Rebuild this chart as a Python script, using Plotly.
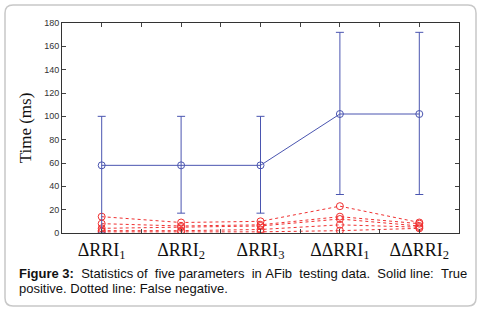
import plotly.graph_objects as go

categories = [1, 2, 3, 4, 5]
cat_labels = ["ΔRRI<sub>1</sub>", "ΔRRI<sub>2</sub>", "ΔRRI<sub>3</sub>",
              "ΔΔRRI<sub>1</sub>", "ΔΔRRI<sub>2</sub>"]

tp_mean = [58, 58, 58, 102, 102]
tp_err_plus = [42, 42, 42, 70, 70]
tp_err_minus = [58, 41, 41, 69, 69]

fn_series = [
    [14, 9, 10, 23, 9],
    [8, 6, 7, 14, 8],
    [4, 5, 6, 12, 6],
    [2, 2, 3, 7, 5],
    [1, 1, 1, 2, 4],
]

y_ticks = list(range(0, 181, 20))

W, H = 481, 311
ML, MR, MT, MB = 62, 22, 23, 78
PW, PH = W - ML - MR, H - MT - MB


def px(x):
    return (x - ML) / PW


def py(y):
    return (H - MB - y) / PH


fig = go.Figure()

for s in fn_series:
    fig.add_trace(go.Scatter(
        x=categories, y=s, mode="lines+markers",
        line=dict(color="#f03030", width=1, dash="dot"),
        marker=dict(symbol="circle-open", size=7, color="#f03030", line=dict(width=1)),
        showlegend=False,
    ))

fig.add_trace(go.Scatter(
    x=categories, y=tp_mean, mode="lines+markers",
    line=dict(color="#4a55b0", width=1),
    marker=dict(symbol="circle-open", size=7, color="#4a55b0", line=dict(width=1)),
    error_y=dict(type="data", symmetric=False, array=tp_err_plus,
                 arrayminus=tp_err_minus, color="#4a55b0", thickness=1, width=4),
    showlegend=False,
))

# rounded outer border
x0, x1, y0, y1, r = 5, 476, 5, 306, 8
path = (
    f"M {px(x0 + r)},{py(y0)} L {px(x1 - r)},{py(y0)} "
    f"Q {px(x1)},{py(y0)} {px(x1)},{py(y0 + r)} "
    f"L {px(x1)},{py(y1 - r)} Q {px(x1)},{py(y1)} {px(x1 - r)},{py(y1)} "
    f"L {px(x0 + r)},{py(y1)} Q {px(x0)},{py(y1)} {px(x0)},{py(y1 - r)} "
    f"L {px(x0)},{py(y0 + r)} Q {px(x0)},{py(y0)} {px(x0 + r)},{py(y0)} Z"
)
fig.add_shape(type="path", path=path, xref="paper", yref="paper",
              line=dict(color="#c8c8c8", width=1.5), layer="below")

x_tickvals = [1, 1.5, 2, 2.5, 3, 3.5, 4, 4.5, 5]
x_ticktext = []
for v in x_tickvals:
    x_ticktext.append(cat_labels[int(v) - 1] if v == int(v) else "")

fig.update_layout(
    width=W, height=H,
    margin=dict(l=ML, r=MR, t=MT, b=MB, autoexpand=False),
    paper_bgcolor="white", plot_bgcolor="white",
    xaxis=dict(range=[0.5, 5.5], tickmode="array", tickvals=x_tickvals,
               ticktext=x_ticktext, ticks="inside", ticklen=4, tickcolor="#444",
               showline=True, linecolor="#333", linewidth=1, mirror="ticks",
               showgrid=False, zeroline=False, automargin=False,
               tickfont=dict(family="Liberation Serif", size=18, color="#111")),
    yaxis=dict(range=[0, 180], tickmode="array", tickvals=y_ticks,
               ticks="inside", ticklen=4, tickcolor="#444",
               showline=True, linecolor="#333", linewidth=1, mirror="ticks",
               showgrid=False, zeroline=False, automargin=False,
               tickfont=dict(family="Liberation Sans", size=9, color="#333"),
               title=dict(text="Time (ms)", standoff=8,
                          font=dict(family="Liberation Serif", size=17, color="#111"))),
)

words = ["<b>Figure&nbsp;3:</b>", "Statistics", "of", "five", "parameters", "in",
         "AFib", "testing", "data.", "Solid", "line:", "True"]
line1 = words[0]
for i, w in enumerate(words[1:]):
    line1 += ("&nbsp;&nbsp;" if i % 2 == 0 else "&nbsp;") + w

fig.add_annotation(
    x=px(17), y=py(273), xref="paper", yref="paper", xanchor="left", yanchor="middle",
    text=line1,
    showarrow=False, font=dict(family="Liberation Sans", size=13, color="#111"),
)
fig.add_annotation(
    x=px(17), y=py(288), xref="paper", yref="paper", xanchor="left", yanchor="middle",
    text="positive. Dotted line: False negative.",
    showarrow=False, font=dict(family="Liberation Sans", size=13, color="#111"),
)

fig.write_html("out.html", config={"displayModeBar": False},
               post_script="document.body.style.margin='0';document.body.style.overflow='hidden';")
